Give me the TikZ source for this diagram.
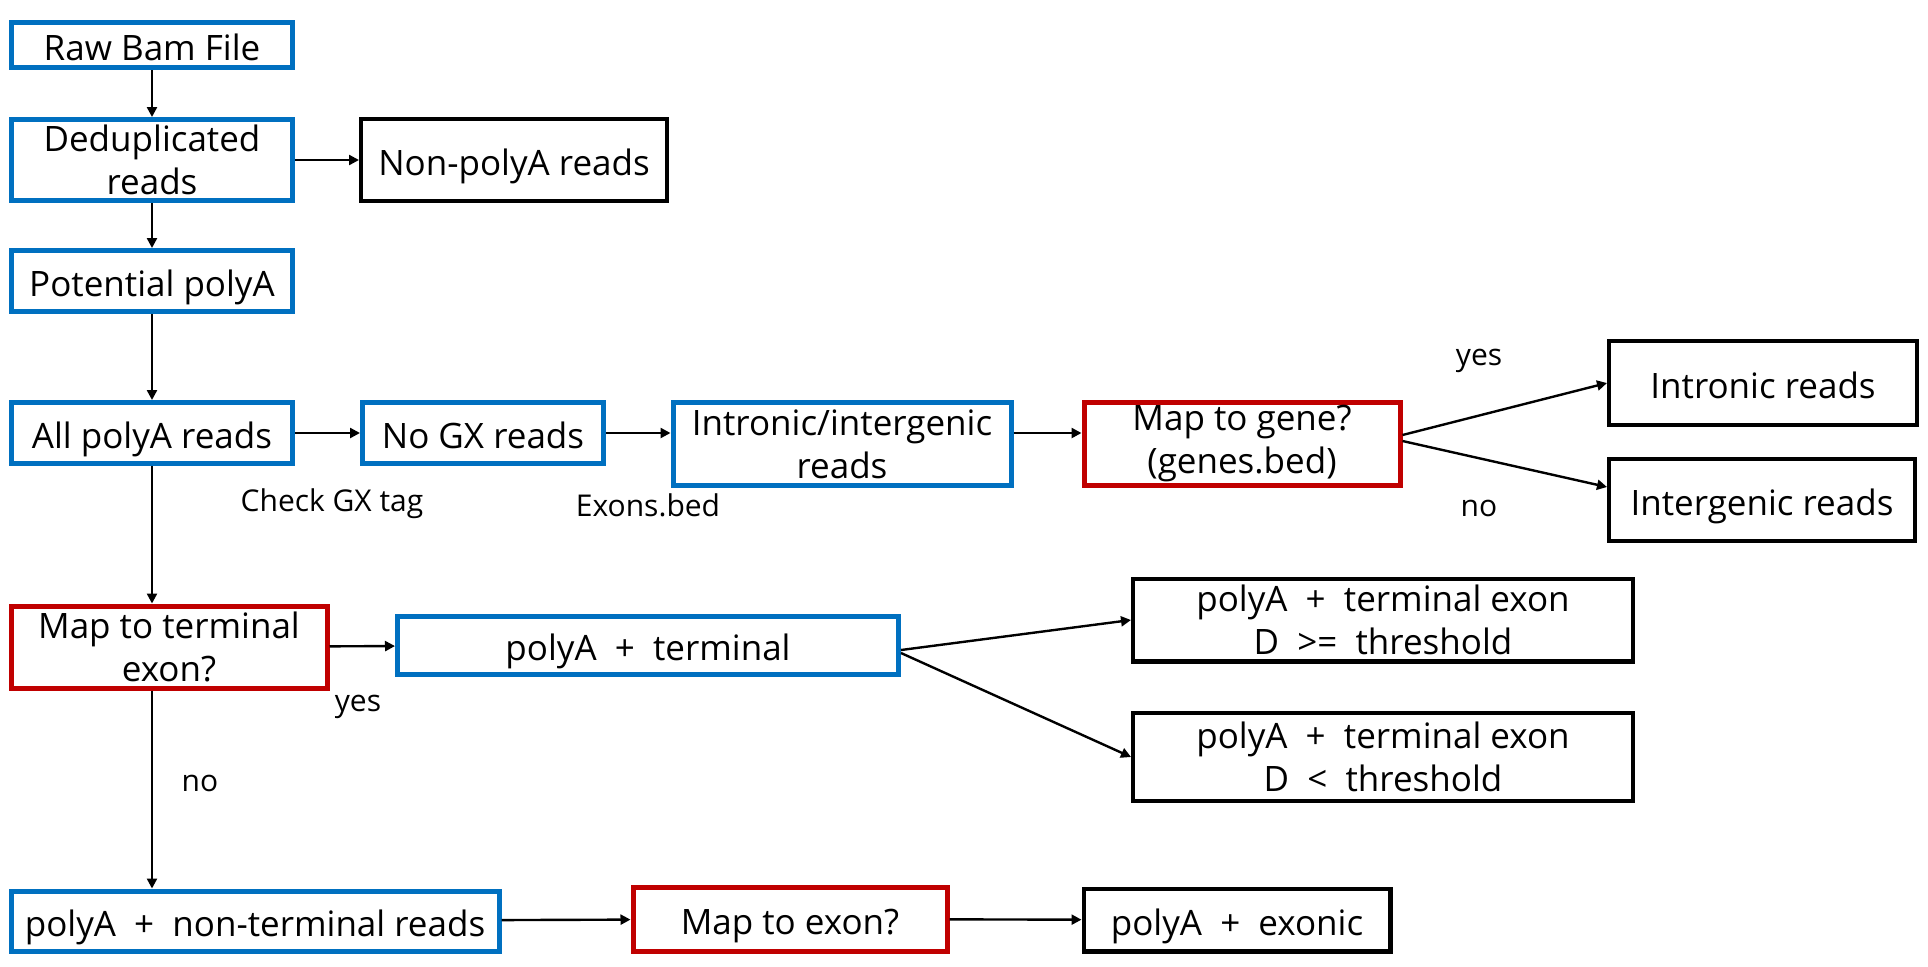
\documentclass[tikz,border=0pt]{standalone}
\usepackage{fontspec}
\setmainfont{Open Sans}
\usetikzlibrary{arrows.meta,positioning,calc}
\definecolor{flowBlue}{RGB}{0,112,192}
\definecolor{flowRed}{RGB}{192,0,0}

\begin{document}
\begin{tikzpicture}[x=0.5pt,y=-0.5pt,
      box/.style={draw,fill=white,align=center,inner sep=0pt,font=\fontsize{17.5}{21.5}\selectfont},
      oneline/.style={text height=15.5pt,text depth=0pt},
      bluebox/.style={box,draw=flowBlue,line width=2.5pt},
      redbox/.style={box,draw=flowRed,line width=2.5pt},
      outbox/.style={box,draw=black,line width=2.2pt},
      lbl/.style={font=\fontsize{15}{18}\selectfont},
      arr/.style={-{Triangle[length=5pt,width=5pt]},line width=1.2pt,draw=black}
    ]
    \useasboundingbox (0,0) rectangle (1928,966);
    % left column
    \node[bluebox,oneline,minimum width=140.5pt,minimum height=22.5pt] (raw) at (152,45) {Raw Bam File};
    \node[bluebox,minimum width=140.5pt,minimum height=40.5pt] (dedup) at (152,160) {Deduplicated\\reads};
    \node[outbox,oneline,minimum width=152.8pt,minimum height=40.8pt] (nonpoly) at (514,160) {Non-polyA reads};
    \node[bluebox,oneline,minimum width=140.5pt,minimum height=30.5pt] (potential) at (152,281) {Potential polyA};
    \node[bluebox,oneline,minimum width=140.5pt,minimum height=30.5pt] (allpoly) at (152,433) {All polyA reads};
    % GX branch
    \node[bluebox,oneline,minimum width=120.5pt,minimum height=30.5pt] (nogx) at (483,433) {No GX reads};
    \node[bluebox,minimum width=169pt,minimum height=41.5pt] (intr) at (842,444) {Intronic/intergenic\\reads};
    \node[redbox,minimum width=158pt,minimum height=41.5pt] (mapgene) at (1242,444) {Map to gene?\\(genes.bed)};
    \node[outbox,oneline,minimum width=153.8pt,minimum height=41.8pt] (intronic) at (1763,383) {Intronic reads};
    \node[outbox,oneline,minimum width=152.8pt,minimum height=40.8pt] (intergenic) at (1762,500) {Intergenic reads};
    % terminal exon branch
    \node[redbox,minimum width=158pt,minimum height=41pt] (mapterm) at (169,647) {Map to terminal\\exon?};
    \node[bluebox,oneline,minimum width=250.5pt,minimum height=29pt] (polyterm) at (648,645) {polyA \ + \ terminal};
    \node[outbox,minimum width=249.8pt,minimum height=41.3pt] (dge) at (1383,620) {polyA \ + \ terminal exon\\D \ >= \ threshold};
    \node[outbox,minimum width=249.8pt,minimum height=43.8pt] (dlt) at (1383,757) {polyA \ + \ terminal exon\\D \ < \ threshold};
    % non-terminal branch
    \node[bluebox,oneline,minimum width=244pt,minimum height=30pt] (nonterm) at (255,921) {polyA \ + \ non-terminal reads};
    \node[redbox,oneline,minimum width=157pt,minimum height=32pt] (mapexon) at (790,919) {Map to exon?};
    \node[outbox,oneline,minimum width=153.3pt,minimum height=31.3pt] (exonic) at (1237,920) {polyA \ + \ exonic};
    % labels
    \node[lbl] (checkgx) at (332,504) {Check GX tag};
    \node[lbl] (exonsbed) at (648,505) {Exons.bed};
    \node[lbl] (yesgene) at (1479,361) {yes};
    \node[lbl] (nogene) at (1479,508) {no};
    \node[lbl] (yesterm) at (358,707) {yes};
    \node[lbl] (noterm) at (200,783) {no};
    % connectors
    \draw[arr] (raw) -- (dedup);
    \draw[arr] (dedup) -- (nonpoly);
    \draw[arr] (dedup) -- (potential);
    \draw[arr] (potential) -- (allpoly);
    \draw[arr] (allpoly) -- (nogx);
    \draw[arr] (nogx.east) -- (nogx.east -| intr.west);
    \draw[arr] (intr.east |- nogx.east) -- (mapgene.west |- nogx.east);
    \draw[arr] ([yshift=4.5pt]mapgene.east) -- (intronic.west);
    \draw[arr] ([yshift=1.5pt]mapgene.east) -- ([yshift=6.5pt]intergenic.west);
    \draw[arr] (allpoly.south) -- (allpoly.south |- mapterm.north);
    \draw[arr] (mapterm) -- (polyterm);
    \draw[arr] ([yshift=-2.5pt]polyterm.east) -- (dge.west);
    \draw[arr] ([yshift=-4pt]polyterm.east) -- (dlt.west);
    \draw[arr] (allpoly.south |- mapterm.south) -- (allpoly.south |- nonterm.north);
    \draw[arr] (nonterm) -- (mapexon);
    \draw[arr] (mapexon) -- (exonic);
  \end{tikzpicture}
\end{document}
